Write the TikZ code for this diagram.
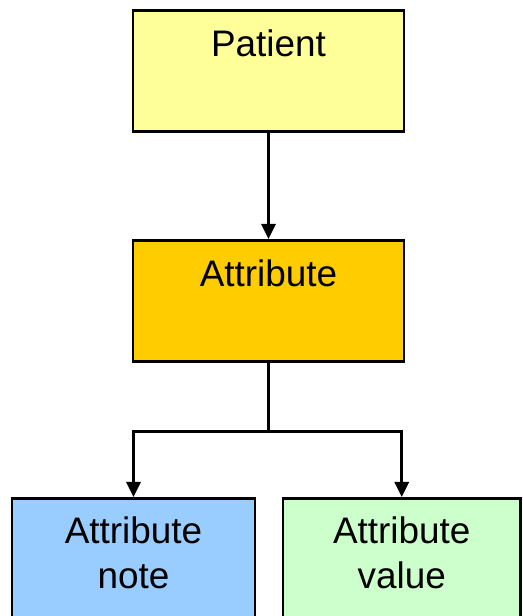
\documentclass[tikz,border=0pt]{standalone}
\usepackage{fontspec}
\setmainfont{Liberation Sans}
\usepackage{xcolor}
\usetikzlibrary{calc,arrows.meta}
\definecolor{patientfill}{HTML}{FFFF99}
\definecolor{attrfill}{HTML}{FFCC00}
\definecolor{notefill}{HTML}{99CCFF}
\definecolor{valuefill}{HTML}{CCFFCC}
\tikzset{
  box/.style={draw=black, line width=1.5pt, anchor=north, inner xsep=0pt, inner ysep=0pt,
    align=center, font=\fontsize{21}{25.6}\selectfont},
  onebox/.style={box, minimum width=5.42cm, text height=0.92cm, text depth=1.5cm},
  twobox/.style={box, text height=1.8cm, text depth=0.8cm},
  link/.style={-{Triangle[length=0.3cm,width=0.28cm]}, draw=black, line width=1.5pt}
}
\begin{document}
\begin{tikzpicture}
  \useasboundingbox (0,0) rectangle (10.44,12.32);
  \clip (0,0) rectangle (10.44,12.32);

  \node[onebox, fill=patientfill] (patient) at (5.37,12.14) {Patient};
  \node[onebox, fill=attrfill] (attr) at (5.37,7.54) {Attribute};
  \node[twobox, fill=notefill, minimum width=4.86cm] (note) at (2.67,2.38) {Attribute\\note};
  \node[twobox, fill=valuefill, minimum width=4.75cm] (value) at (8.035,2.38) {Attribute\\value};

  \coordinate (fork) at ($(attr.south)-(0,1.38)$);

  \draw[link] (patient) -- (attr);
  \draw[link] (attr.south) -- (fork) -| (note.north);
  \draw[link] (fork) -| (value.north);
\end{tikzpicture}
\end{document}
